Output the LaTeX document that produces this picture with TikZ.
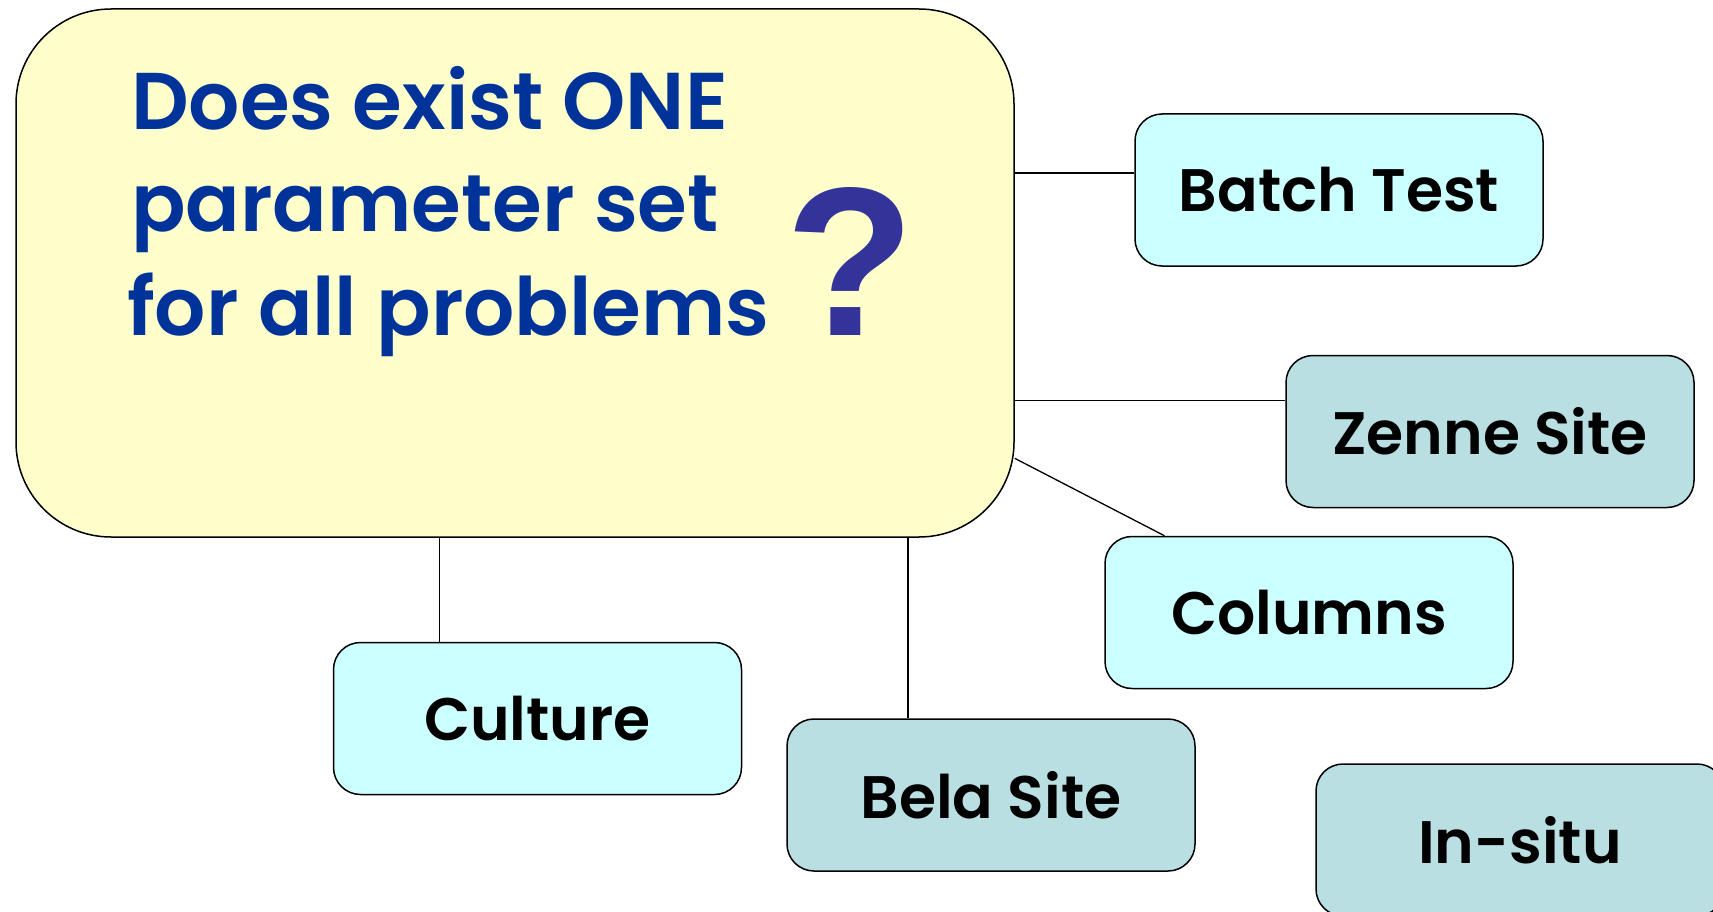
\documentclass[tikz,border=0pt]{standalone}
\usepackage{fontspec}
\setmainfont{Poppins}[BoldFont={Poppins SemiBold}]
\newfontfamily\qfont{Liberation Sans}
\usetikzlibrary{calc}
\definecolor{mainfill}{HTML}{FFFFCC}
\definecolor{lightcyan}{HTML}{CCFFFF}
\definecolor{sitefill}{HTML}{B9DFE3}
\definecolor{maintext}{HTML}{003399}
\definecolor{qmark}{HTML}{333399}
\pgfdeclarelayer{bg}
\pgfsetlayers{bg,main}
\tikzset{
  mainbox/.style={draw=black, line width=1.5pt, fill=mainfill, rounded corners=95pt, minimum width=998pt, minimum height=528pt, inner sep=0pt},
  probbox/.style={draw=black, line width=1.5pt, rounded corners=27pt, minimum width=408pt, minimum height=152pt, inner sep=0pt, font=\fontsize{60}{60}\selectfont\bfseries},
  cyanbox/.style={probbox, fill=lightcyan},
  sitebox/.style={probbox, fill=sitefill},
  qline/.style={font=\fontsize{80.5}{80.5}\selectfont\bfseries, text=maintext, inner sep=0pt, anchor=base west},
  conn/.style={draw=black, line width=1.3pt}
}
\begin{document}
\begin{tikzpicture}[x=1pt,y=-1pt]
\useasboundingbox (0,0) rectangle (1713,912);
\clip (0,0) rectangle (1713,912);
\node[mainbox] (main) at (515,273) {};
\node[qline] (l1) at (131,130) {Does exist ONE};
\node[qline] (l2) at (131,232) {parameter set};
\node[qline] (l3) at (127,335) {for all problems};
\node[font=\fontsize{212}{212}\selectfont\qfont\bfseries, text=qmark, inner sep=0pt, anchor=base] (q) at (850,335) {?};
\node[cyanbox] (batch) at (1339,190) {Batch Test};
\node[sitebox] (zenne) at (1490,431.5) {Zenne Site};
\node[cyanbox] (columns) at (1309,612.5) {Columns};
\node[cyanbox] (culture) at (537.5,718.5) {Culture};
\node[sitebox] (bela) at (991,795) {Bela Site};
\node[sitebox] (insitu) at (1520,840) {In-situ};
\begin{pgfonlayer}{bg}
\coordinate (bw) at ($(batch.north west)!0.39!(batch.south west)$);
\draw[conn] (bw -| main.east) -- (bw);
\coordinate (zw) at ($(zenne.north west)!0.3!(zenne.south west)$);
\draw[conn] (zw -| main.east) -- (zw);
\coordinate (me) at ($(main.north east)!0.85!(main.south east)$);
\coordinate (cn) at ($(columns.north west)!0.147!(columns.north east)$);
\draw[conn] (me) -- (cn);
\coordinate (cun) at ($(culture.north west)!0.26!(culture.north east)$);
\draw[conn] (cun |- main.south) -- (cun);
\coordinate (bn) at ($(bela.north west)!0.297!(bela.north east)$);
\draw[conn] (bn |- main.south) -- (bn);
\end{pgfonlayer}
\end{tikzpicture}
\end{document}
